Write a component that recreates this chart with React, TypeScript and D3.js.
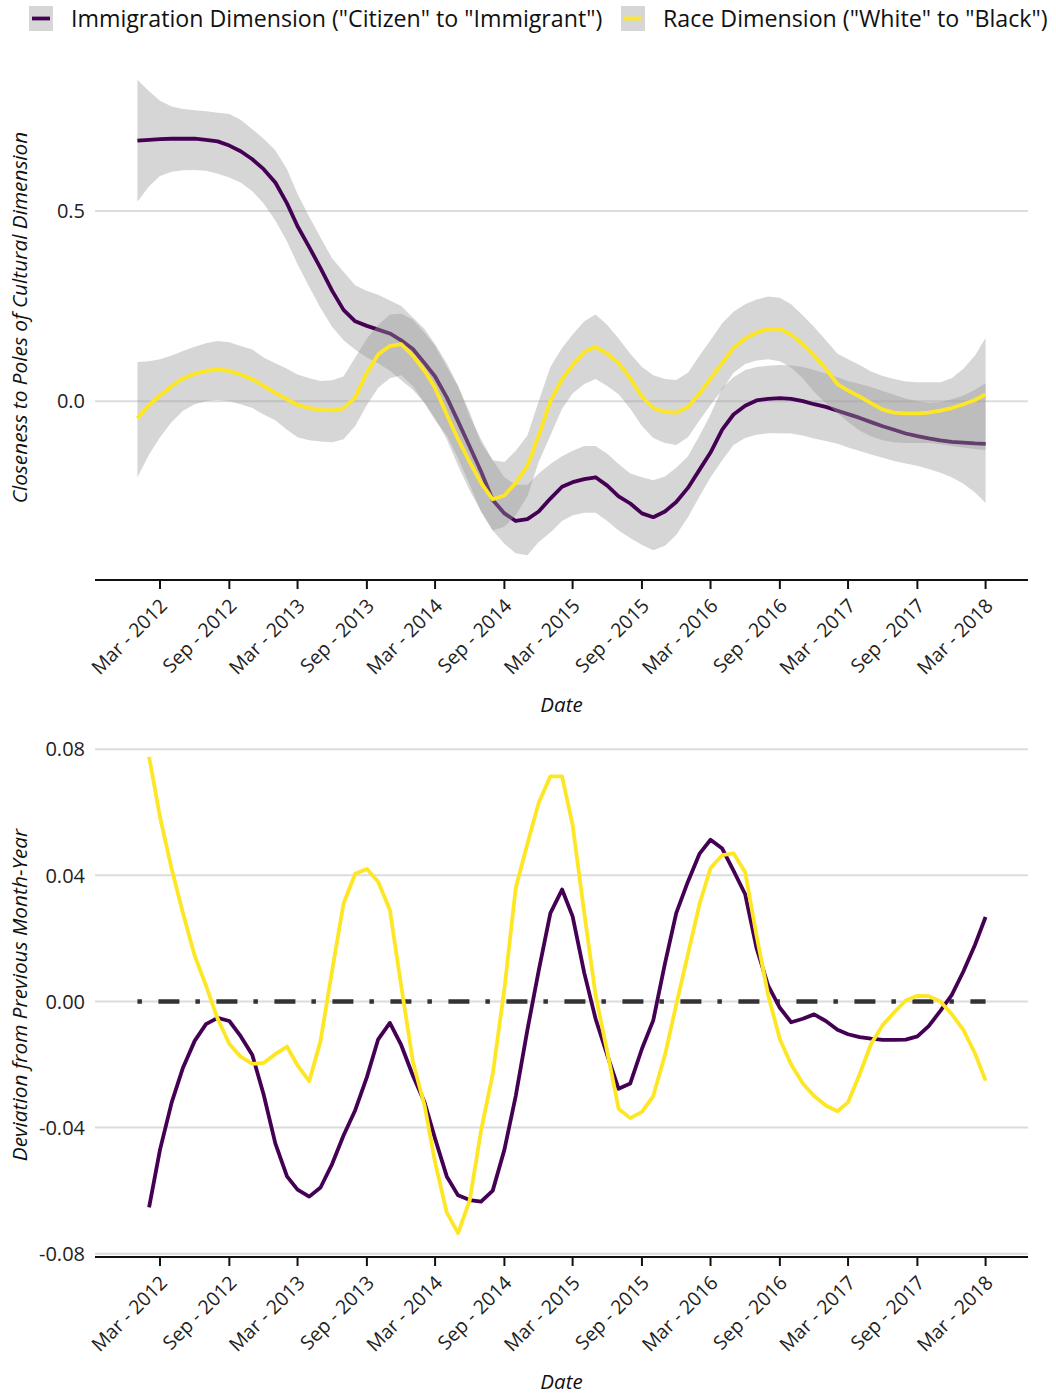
import * as d3 from 'd3'
import { useEffect, useRef } from 'react'

// monthly series, Jan 2012 .. Mar 2018
const firstMonth = new Date(2012, 0, 1)
const lastMonth = new Date(2018, 2, 1)

const immFit = [
  0.685, 0.687, 0.689, 0.69, 0.69, 0.69, 0.687, 0.683, 0.672, 0.657,
  0.636, 0.61, 0.575, 0.52, 0.46, 0.405, 0.35, 0.29, 0.24, 0.21,
  0.198, 0.188, 0.178, 0.16, 0.137, 0.1, 0.065, 0.01, -0.053, -0.12,
  -0.185, -0.26, -0.295, -0.315, -0.31, -0.29, -0.256, -0.225, -0.213, -0.205,
  -0.2, -0.222, -0.25, -0.269, -0.295, -0.305, -0.29, -0.265, -0.228, -0.18,
  -0.135, -0.075, -0.035, -0.012, 0.002, 0.006, 0.008, 0.006, 0.0, -0.008,
  -0.015, -0.025, -0.034, -0.044, -0.055, -0.066, -0.075, -0.085, -0.092, -0.098,
  -0.103, -0.107, -0.109, -0.111, -0.112,
]
const immHi = [
  0.845, 0.815, 0.79, 0.775, 0.768, 0.765, 0.762, 0.758, 0.755, 0.74,
  0.715, 0.69, 0.66, 0.61, 0.545, 0.485, 0.43, 0.375, 0.34, 0.305,
  0.29, 0.28, 0.265, 0.25, 0.22, 0.19, 0.15, 0.1, 0.04, -0.04,
  -0.1, -0.155, -0.2, -0.22, -0.22, -0.19, -0.165, -0.145, -0.13, -0.118,
  -0.118, -0.138, -0.165, -0.19, -0.2, -0.208, -0.198, -0.175, -0.145, -0.09,
  -0.035, 0.035, 0.063, 0.082, 0.09, 0.093, 0.095, 0.094, 0.09, 0.082,
  0.073, 0.063, 0.053, 0.045, 0.037, 0.027, 0.017, 0.007, 0.0, -0.005,
  -0.003, 0.005, 0.015, 0.03, 0.047,
]
const immLo = [
  0.524, 0.565, 0.592, 0.603, 0.607, 0.608, 0.606, 0.598, 0.588, 0.575,
  0.552, 0.52, 0.475, 0.42, 0.36, 0.3, 0.245, 0.195, 0.16, 0.135,
  0.115, 0.1, 0.08, 0.055, 0.03, -0.005, -0.045, -0.1, -0.17, -0.235,
  -0.29, -0.34, -0.375, -0.4, -0.405, -0.37, -0.345, -0.315, -0.3, -0.293,
  -0.293, -0.315, -0.34, -0.36, -0.378, -0.392, -0.38, -0.352, -0.305, -0.25,
  -0.2, -0.155, -0.115, -0.097, -0.088, -0.084, -0.084, -0.085, -0.09, -0.098,
  -0.105, -0.112, -0.122, -0.131, -0.14, -0.149, -0.157, -0.164, -0.17, -0.178,
  -0.188, -0.2, -0.217, -0.24, -0.268,
]
const raceFit = [
  -0.045, -0.01, 0.015, 0.04, 0.06, 0.072, 0.08, 0.083, 0.08, 0.07,
  0.058, 0.04, 0.022, 0.005, -0.01, -0.018, -0.023, -0.024, -0.019, 0.01,
  0.075, 0.123, 0.145, 0.15, 0.12, 0.08, 0.035, -0.035, -0.1, -0.16,
  -0.215, -0.258, -0.248, -0.215, -0.17, -0.09, 0.0, 0.058, 0.095, 0.13,
  0.143, 0.125, 0.1, 0.06, 0.012, -0.018, -0.028, -0.03, -0.015, 0.02,
  0.06, 0.1, 0.14, 0.165, 0.18, 0.19, 0.19, 0.175, 0.15, 0.12,
  0.085, 0.045, 0.028, 0.012, -0.005, -0.022, -0.03, -0.032, -0.032, -0.03,
  -0.025, -0.018, -0.008, 0.003, 0.018,
]
const raceHi = [
  0.103, 0.105, 0.11, 0.12, 0.132, 0.143, 0.152, 0.158, 0.155, 0.145,
  0.136, 0.115, 0.1, 0.085, 0.07, 0.06, 0.053, 0.055, 0.065, 0.115,
  0.165, 0.2, 0.228, 0.23, 0.215, 0.18, 0.145, 0.09, 0.04, -0.03,
  -0.11, -0.155, -0.16, -0.13, -0.09, 0.0, 0.09, 0.14, 0.175, 0.21,
  0.228, 0.2, 0.165, 0.125, 0.09, 0.068, 0.058, 0.056, 0.075, 0.12,
  0.16, 0.205, 0.235, 0.255, 0.267, 0.275, 0.272, 0.255, 0.225, 0.195,
  0.16, 0.125, 0.11, 0.095, 0.078, 0.066, 0.058, 0.052, 0.05, 0.05,
  0.05, 0.06, 0.085, 0.12, 0.166,
]
const raceLo = [
  -0.2, -0.14, -0.095, -0.055, -0.025, -0.008, 0.0, 0.003, 0.0, -0.008,
  -0.018, -0.035, -0.05, -0.075, -0.095, -0.103, -0.106, -0.108, -0.1, -0.065,
  -0.01, 0.035, 0.06, 0.068, 0.04, -0.005, -0.05, -0.09, -0.15, -0.22,
  -0.29, -0.34, -0.33, -0.3, -0.25, -0.16, -0.09, -0.02, 0.02, 0.045,
  0.058, 0.04, 0.018, -0.02, -0.065, -0.097, -0.11, -0.115, -0.095, -0.05,
  -0.01, 0.03, 0.075, 0.098, 0.107, 0.11, 0.105, 0.088, 0.06, 0.025,
  -0.005, -0.032, -0.055, -0.078, -0.092, -0.103, -0.108, -0.11, -0.11, -0.11,
  -0.113, -0.118, -0.122, -0.126, -0.129,
]

// month-on-month deviation, Feb 2012 .. Mar 2018
const immDev = [
  -0.0653, -0.047, -0.032, -0.021, -0.0125, -0.0072, -0.0052, -0.0062, -0.011, -0.017,
  -0.0295, -0.045, -0.0555, -0.0597, -0.0619, -0.059, -0.0515, -0.0425, -0.0345, -0.024,
  -0.012, -0.0068, -0.0138, -0.0235, -0.032, -0.0435, -0.0555, -0.0615, -0.063, -0.0635,
  -0.06, -0.047, -0.03, -0.009, 0.0098, 0.028, 0.0355, 0.027, 0.009, -0.0055,
  -0.017, -0.0277, -0.026, -0.015, -0.006, 0.012, 0.028, 0.038, 0.0469, 0.0513,
  0.0485, 0.0415, 0.034, 0.017, 0.005, -0.002, -0.0066, -0.0055, -0.0041, -0.0062,
  -0.009, -0.0104, -0.0113, -0.0118, -0.0122, -0.0122, -0.0121, -0.0111, -0.0078, -0.003,
  0.002, 0.0095, 0.018, 0.0268,
]
const raceDev = [
  0.0776, 0.0585, 0.042, 0.028, 0.0145, 0.005, -0.0055, -0.0135, -0.0175, -0.0198,
  -0.0195, -0.0167, -0.0143, -0.0203, -0.0253, -0.0125, 0.01, 0.031, 0.0405, 0.042,
  0.038, 0.029, 0.005, -0.019, -0.033, -0.051, -0.067, -0.0735, -0.063, -0.041,
  -0.023, 0.004, 0.036, 0.05, 0.063, 0.0714, 0.0714, 0.056, 0.028, 0.002,
  -0.016, -0.034, -0.037, -0.035, -0.03, -0.017, -0.001, 0.015, 0.031, 0.0423,
  0.0464, 0.047, 0.041, 0.021, 0.002, -0.012, -0.02, -0.026, -0.03, -0.033,
  -0.0348, -0.032, -0.023, -0.0135, -0.0075, -0.0035, 0.0003, 0.0018, 0.0017, 0.0,
  -0.004, -0.009, -0.0165, -0.0251,
]

const topTicks = [0.5, 0.0]
const bottomTicks = [-0.08, -0.04, 0.0, 0.04, 0.08]
// plain hyphen for negatives, as in the original
const tickFormatBottom = (v: number) => v.toFixed(2)
const tickFormatTop = (v: number) => v.toFixed(1)

const legendItems = [
  { label: 'Immigration Dimension ("Citizen" to "Immigrant")', color: '#440154' },
  { label: 'Race Dimension ("White" to "Black")', color: '#FDE725' },
]

const FONT = '"Open Sans", "Noto Sans", sans-serif'
const width = 1056
const height = 1395

export default function App() {
  const svgRef = useRef(null)

  useEffect(() => {
    const svg = d3.select(svgRef.current)
    svg.selectAll('*').remove()

    const months = d3.timeMonth.range(firstMonth, d3.timeMonth.offset(lastMonth, 1))
    const devMonths = months.slice(1)
    const tickDates = d3.timeMonth.range(new Date(2012, 2, 1), d3.timeMonth.offset(lastMonth, 1), 6)
    const fmtDate = d3.timeFormat('%b - %Y')

    const span = +lastMonth - +firstMonth
    const xScale = d3.scaleTime()
      .domain([new Date(+firstMonth - span * 0.05), new Date(+lastMonth + span * 0.05)])
      .range([95, 1028])

    const expand = (lo: number, hi: number) => {
      const r = hi - lo
      return [lo - r * 0.05, hi + r * 0.05]
    }

    const topLo = d3.min([...immLo, ...raceLo])!
    const topHi = d3.max([...immHi, ...raceHi])!
    const yTop = d3.scaleLinear().domain(expand(topLo, topHi)).range([579, 56])

    const botLo = d3.min([...immDev, ...raceDev])!
    const botHi = d3.max([...immDev, ...raceDev])!
    const yBot = d3.scaleLinear().domain(expand(botLo, botHi)).range([1257, 733])

    // Legend
    const legend = svg.append('g')
    const keyX = [29, 621]
    const textX = [71, 663]
    legendItems.forEach((item, i) => {
      legend.append('rect')
        .attr('x', keyX[i]).attr('y', 6).attr('width', 24).attr('height', 25)
        .style('fill', '#d6d6d6')
      legend.append('line')
        .attr('x1', keyX[i] + 3).attr('x2', keyX[i] + 21)
        .attr('y1', 18.5).attr('y2', 18.5)
        .style('stroke', item.color).style('stroke-width', 3.8)
      legend.append('text')
        .attr('x', textX[i]).attr('y', 27)
        .style('font-family', FONT).style('font-size', '23.2px').style('fill', '#111')
        .text(item.label)
    })

    const drawXAxis = (axisY: number, titleY: number) => {
      const g = svg.append('g')
      g.append('line')
        .attr('x1', 95).attr('x2', 1028).attr('y1', axisY).attr('y2', axisY)
        .style('stroke', '#111').style('stroke-width', 2.2)
      tickDates.forEach(d => {
        const tx = xScale(d)
        g.append('line')
          .attr('x1', tx).attr('x2', tx).attr('y1', axisY).attr('y2', axisY + 9)
          .style('stroke', '#111').style('stroke-width', 2)
        // baseline end of the rotated label sits just below-right of the tick
        g.append('text')
          .attr('transform', `translate(${tx + 8.5},${axisY + 27}) rotate(-45)`)
          .attr('text-anchor', 'end')
          .style('font-family', FONT).style('font-size', '19.5px').style('fill', '#222')
          .text(fmtDate(d))
      })
      g.append('text')
        .attr('x', (95 + 1028) / 2).attr('y', titleY)
        .attr('text-anchor', 'middle')
        .style('font-family', FONT).style('font-size', '20.5px').style('font-style', 'italic')
        .style('fill', '#111')
        .text('Date')
    }

    const drawYGrid = (scale: d3.ScaleLinear<number, number>, ticks: number[], fmt: (n: number) => string) => {
      const g = svg.append('g')
      ticks.forEach(t => {
        g.append('line')
          .attr('x1', 95).attr('x2', 1028).attr('y1', scale(t)).attr('y2', scale(t))
          .style('stroke', '#dcdcdc').style('stroke-width', 2)
        g.append('text')
          .attr('x', 85).attr('y', scale(t)).attr('dy', '0.36em')
          .attr('text-anchor', 'end')
          .style('font-family', FONT).style('font-size', '20px').style('fill', '#222')
          .text(fmt(t))
      })
    }

    const yTitle = (cy: number, label: string) => {
      svg.append('text')
        .attr('transform', `translate(27,${cy}) rotate(-90)`)
        .attr('text-anchor', 'middle')
        .style('font-family', FONT).style('font-size', '20.8px').style('font-style', 'italic')
        .style('fill', '#111')
        .text(label)
    }

    // ---------- Top panel ----------
    drawYGrid(yTop, topTicks, tickFormatTop)

    const band = (lo: number[], hi: number[]) => d3.area<Date>()
      .x(d => xScale(d))
      .y0((_, i) => yTop(lo[i]))
      .y1((_, i) => yTop(hi[i]))

    const topLine = (vals: number[]) => d3.line<Date>()
      .x(d => xScale(d))
      .y((_, i) => yTop(vals[i]))

    const topSeries = [
      { fit: immFit, lo: immLo, hi: immHi, color: '#440154' },
      { fit: raceFit, lo: raceLo, hi: raceHi, color: '#FDE725' },
    ]
    topSeries.forEach(s => {
      svg.append('path')
        .datum(months)
        .attr('d', band(s.lo, s.hi))
        .style('fill', '#999999').style('fill-opacity', 0.4)
      svg.append('path')
        .datum(months)
        .attr('d', topLine(s.fit))
        .style('fill', 'none').style('stroke', s.color).style('stroke-width', 3.8)
        .style('stroke-linejoin', 'round')
    })

    drawXAxis(580, 712)
    yTitle((56 + 579) / 2, 'Closeness to Poles of Cultural Dimension')

    // ---------- Bottom panel ----------
    drawYGrid(yBot, bottomTicks, tickFormatBottom)

    svg.append('line')
      .attr('x1', xScale(firstMonth)).attr('x2', xScale(lastMonth))
      .attr('y1', yBot(0)).attr('y2', yBot(0))
      .style('stroke', '#333').style('stroke-width', 4.5)
      .style('stroke-dasharray', '4.5 16.5 21 16')

    const botLine = (vals: number[]) => d3.line<Date>()
      .x(d => xScale(d))
      .y((_, i) => yBot(vals[i]))

    ;[{ vals: immDev, color: '#440154' }, { vals: raceDev, color: '#FDE725' }].forEach(s => {
      svg.append('path')
        .datum(devMonths)
        .attr('d', botLine(s.vals))
        .style('fill', 'none').style('stroke', s.color).style('stroke-width', 3.8)
        .style('stroke-linejoin', 'round')
    })

    drawXAxis(1257, 1389)
    yTitle((733 + 1257) / 2, 'Deviation from Previous Month-Year')
  }, [svgRef])

  return (
    <div style={{ position: 'absolute', left: 0, top: 0 }}>
      <svg ref={svgRef} width={width} height={height} style={{ display: 'block', background: '#fff' }} />
    </div>
  )
}
